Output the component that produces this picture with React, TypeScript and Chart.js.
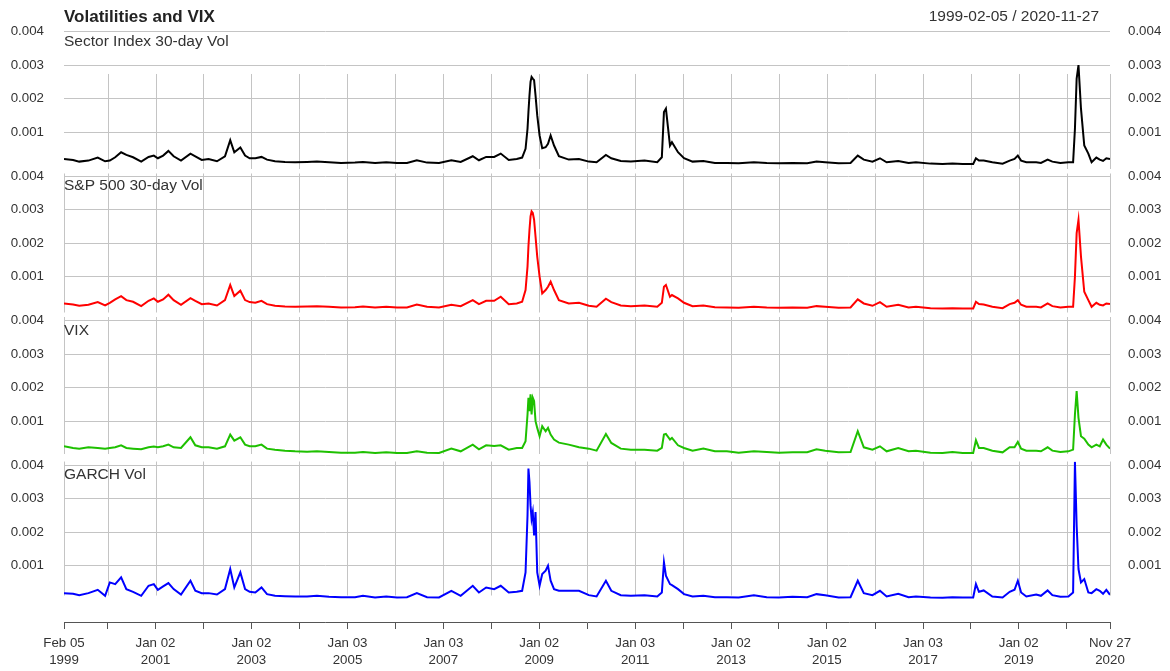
import React, { useEffect, useRef } from "react";
import { Chart, registerables } from "chart.js";

Chart.register(...registerables);

const chartTitle = "Volatilities and VIX";
const dateRange = "1999-02-05 / 2020-11-27";
const panelTitles = ["Sector Index 30-day Vol", "S&P 500 30-day Vol", "VIX", "GARCH Vol"];
const seriesColors = ["#000000", "#FF0000", "#1EC000", "#0000FF"];

const dates = [
  "1999-02-05", "1999-04-15", "1999-06-01", "1999-08-10", "1999-10-20", "1999-12-15",
  "2000-01-20", "2000-03-01", "2000-04-15", "2000-05-25", "2000-07-15", "2000-09-15", "2000-11-10", "2000-12-20",
  "2001-01-20", "2001-03-01", "2001-04-10", "2001-05-20", "2001-07-15", "2001-09-25", "2001-11-01", "2001-12-20",
  "2002-02-10", "2002-04-15", "2002-06-15", "2002-07-25", "2002-08-25", "2002-10-10", "2002-11-15", "2002-12-20",
  "2003-02-01", "2003-03-20", "2003-05-01", "2003-07-01", "2003-09-15", "2003-12-01",
  "2004-03-01", "2004-05-15", "2004-08-15", "2004-11-15", "2005-03-01", "2005-05-01", "2005-08-01", "2005-10-25", "2006-01-15", "2006-04-01", "2006-06-15", "2006-09-01", "2006-12-01",
  "2007-03-05", "2007-05-15", "2007-08-15", "2007-10-01", "2007-11-25", "2008-01-25", "2008-03-15", "2008-05-15", "2008-07-15", "2008-08-25",
  "2008-09-20", "2008-10-05", "2008-10-12", "2008-10-20", "2008-10-28", "2008-11-05", "2008-11-14", "2008-11-24", "2008-12-05", "2008-12-18", "2009-01-05", "2009-01-25", "2009-02-20", "2009-03-10", "2009-03-30", "2009-04-25", "2009-06-01",
  "2009-08-15", "2009-11-01",
  "2010-01-15", "2010-03-15", "2010-05-25", "2010-07-05", "2010-09-15", "2010-12-01",
  "2011-03-15", "2011-06-20", "2011-07-25", "2011-08-10", "2011-08-25", "2011-09-25", "2011-10-10", "2011-11-25", "2012-01-10", "2012-03-15", "2012-06-05", "2012-09-01", "2012-12-01",
  "2013-03-01", "2013-06-25", "2013-10-01", "2014-01-01", "2014-04-15", "2014-08-05", "2014-10-15", "2014-12-20",
  "2015-04-01", "2015-07-01", "2015-08-25", "2015-10-10", "2015-12-15", "2016-02-10", "2016-04-01", "2016-06-28", "2016-09-15", "2016-11-10",
  "2017-03-01", "2017-06-01", "2017-08-15", "2017-11-01", "2018-01-20", "2018-02-10", "2018-03-05", "2018-04-10", "2018-06-15", "2018-09-01", "2018-10-25", "2018-12-01", "2018-12-26", "2019-01-20", "2019-03-01", "2019-05-15", "2019-06-20", "2019-08-10", "2019-09-15", "2019-11-15",
  "2020-01-15", "2020-02-20", "2020-03-05", "2020-03-18", "2020-04-01", "2020-04-20", "2020-05-15", "2020-06-15", "2020-07-10", "2020-08-15", "2020-09-10", "2020-10-05", "2020-10-30", "2020-11-27",
];

const sectorVol = [
  0.0002, 0.00017, 0.00012, 0.00015, 0.00024, 0.00013,
  0.00015, 0.00025, 0.0004, 0.00032, 0.00025, 0.00012, 0.00026, 0.0003,
  0.00022, 0.0003, 0.00044, 0.00028, 0.00015, 0.00036, 0.00028, 0.00017,
  0.0002, 0.00013, 0.00028, 0.00076, 0.0004, 0.00054, 0.0003, 0.00022,
  0.00022, 0.00026, 0.00018, 0.00013, 0.00011, 0.0001,
  0.00011, 0.00012, 0.0001, 0.00008, 0.00009, 0.00011, 0.00008, 0.0001, 0.00008, 0.00008, 0.00016, 0.00009, 0.00008,
  0.00016, 0.00011, 0.00028, 0.00016, 0.00026, 0.00026, 0.00036, 0.00017, 0.0002, 0.00024,
  0.0005, 0.0011, 0.0016, 0.0021, 0.0025, 0.00265, 0.0026, 0.00255, 0.0021, 0.0015, 0.0009, 0.00052, 0.00055, 0.00065, 0.0009, 0.0006, 0.00028,
  0.00018, 0.0002,
  0.00012, 0.0001, 0.00032, 0.00022, 0.00014, 0.00012,
  0.00015, 0.0001, 0.00025, 0.0016, 0.0017, 0.0006, 0.0007, 0.0004, 0.00022, 0.00012, 0.00014, 0.00008, 0.00008,
  0.00007, 0.0001, 0.00008, 0.00007, 0.00008, 0.00007, 0.00012, 0.0001,
  0.00007, 0.00008, 0.0003, 0.00018, 0.00012, 0.00022, 0.0001, 0.00014, 0.00008, 0.0001,
  0.00006, 0.00005, 0.00006, 0.00005, 0.00005, 0.00022, 0.00015, 0.00015, 0.0001, 0.00006, 0.00015, 0.0002, 0.0003, 0.00015, 0.0001, 0.0001, 0.00008, 0.00018, 0.00012, 0.00008,
  0.0001, 0.0001, 0.0011, 0.0026, 0.003, 0.0017, 0.0006, 0.00036, 0.0001, 0.00024, 0.00018, 0.00014, 0.00022, 0.0002,
];

const spVol = [
  0.0002, 0.00017, 0.00013, 0.00016, 0.00024, 0.00014,
  0.00022, 0.00032, 0.00042, 0.0003, 0.00025, 0.00012, 0.00028, 0.00035,
  0.00025, 0.00032, 0.00046, 0.0003, 0.00016, 0.00036, 0.00028, 0.00018,
  0.0002, 0.00014, 0.0003, 0.00075, 0.00042, 0.00058, 0.0003, 0.00024,
  0.00022, 0.00028, 0.00018, 0.00013, 0.00011, 0.0001,
  0.00011, 0.00012, 0.0001, 0.00008, 0.00009, 0.00011, 0.00008, 0.0001, 0.00008, 0.00008, 0.00017, 0.0001, 0.00008,
  0.00016, 0.00012, 0.0003, 0.00018, 0.00028, 0.00028, 0.0004, 0.00018, 0.0002, 0.00025,
  0.0006, 0.0013, 0.0019, 0.0024, 0.0028, 0.00295, 0.0029, 0.0027, 0.0022, 0.0016, 0.001, 0.0005, 0.0006, 0.0007, 0.00085, 0.0006, 0.0003,
  0.0002, 0.00022,
  0.00013, 0.0001, 0.00034, 0.00024, 0.00014, 0.00012,
  0.00014, 0.0001, 0.00022, 0.0007, 0.00075, 0.0004, 0.00045, 0.00035, 0.00022, 0.00012, 0.00014, 0.00009, 0.00008,
  0.00007, 0.0001, 0.00008, 0.00007, 0.00008, 0.00007, 0.00012, 0.0001,
  0.00007, 0.00008, 0.00032, 0.0002, 0.00013, 0.00024, 0.0001, 0.00016, 0.00008, 0.0001,
  0.00006, 0.00005, 0.00006, 0.00005, 0.00005, 0.00025, 0.00018, 0.00017, 0.0001, 0.00006, 0.00018, 0.00022, 0.0003, 0.00016, 0.0001, 0.0001, 0.00008, 0.0002, 0.00012, 0.00008,
  0.0001, 0.0001, 0.001, 0.0023, 0.0027, 0.0016, 0.00055, 0.0003, 0.0001, 0.00022, 0.00016, 0.00014, 0.0002, 0.00018,
];

const vixVol = [
  0.00025, 0.0002, 0.00018, 0.00022, 0.0002, 0.00018,
  0.0002, 0.00022, 0.00028, 0.0002, 0.00018, 0.00016, 0.00022, 0.00024,
  0.00022, 0.00025, 0.0003, 0.00022, 0.0002, 0.00052, 0.00028, 0.00022,
  0.00022, 0.00018, 0.00025, 0.0006, 0.00042, 0.00052, 0.0003, 0.00025,
  0.00025, 0.0003, 0.00018, 0.00015, 0.00012, 0.0001,
  0.00009, 0.0001, 0.00008, 0.00006, 0.00006, 0.00008, 0.00005, 0.00007, 0.00005, 0.00005, 0.0001, 0.00006, 0.00005,
  0.00018, 0.0001, 0.0003, 0.00016, 0.00028, 0.00026, 0.00028, 0.00015, 0.0002, 0.0002,
  0.0004, 0.0012, 0.0017, 0.0013, 0.0018, 0.0012, 0.0017, 0.0016, 0.001, 0.0008, 0.00055, 0.00085, 0.0007, 0.0008, 0.0006, 0.00045, 0.00036,
  0.0003, 0.00022,
  0.00018, 0.00012, 0.00062, 0.00035, 0.00018, 0.00015,
  0.00015, 0.00012, 0.0002, 0.0006, 0.00062, 0.00045, 0.0005, 0.00028, 0.0002, 0.00012, 0.00018, 0.0001, 0.0001,
  0.00006, 0.0001, 0.00008, 0.00006, 0.00007, 0.00007, 0.00016, 0.00012,
  0.00007, 0.00008, 0.0007, 0.00022, 0.00015, 0.00025, 0.0001, 0.0002, 0.0001, 0.00012,
  0.00006, 0.00005, 0.00008, 0.00005, 0.00005, 0.00043, 0.0002, 0.0002, 0.00012, 0.00007, 0.00022, 0.00022, 0.00038, 0.00018, 0.00012, 0.00012, 0.0001, 0.00022, 0.00012, 0.00008,
  0.0001, 0.00015, 0.0012, 0.0019, 0.0011, 0.00055, 0.00048, 0.0003, 0.00022, 0.0003, 0.00025, 0.00045, 0.0003, 0.00018,
];

const garchVol = [
  0.00018, 0.00016, 0.00012, 0.00018, 0.00028, 0.0001,
  0.0005, 0.00045, 0.00065, 0.0003, 0.00022, 0.0001, 0.0004, 0.00045,
  0.00028, 0.00038, 0.00048, 0.0003, 0.00014, 0.00055, 0.00025, 0.00018,
  0.00018, 0.00014, 0.0003, 0.0009, 0.00035, 0.0008, 0.0003, 0.00022,
  0.0002, 0.00035, 0.00015, 0.0001, 0.00009, 0.00008,
  0.00008, 0.0001, 0.00007, 0.00006, 0.00006, 0.0001, 0.00005, 0.00008, 0.00005, 0.00006, 0.00018, 0.00006, 0.00005,
  0.00025, 0.0001, 0.0004, 0.0002, 0.00035, 0.0003, 0.0004, 0.0002, 0.00022, 0.00025,
  0.0008, 0.0025, 0.0039, 0.0035, 0.0028, 0.0024, 0.0026, 0.0019, 0.0026, 0.0008, 0.0004, 0.00075, 0.00085, 0.001, 0.00055, 0.0003, 0.00025,
  0.00025, 0.00025,
  0.00012, 0.00008, 0.00055, 0.00025, 0.00012, 0.0001,
  0.00012, 0.00008, 0.0002, 0.0011, 0.0007, 0.00045, 0.00042, 0.0003, 0.00015, 0.00008, 0.0001, 0.00006, 0.00006,
  0.00005, 0.00012, 0.00006, 0.00005, 0.00007, 0.00006, 0.00015, 0.00012,
  0.00005, 0.00006, 0.00055, 0.00018, 0.00012, 0.00025, 0.00008, 0.00016, 0.00006, 0.00008,
  0.00005, 0.00004, 0.00006, 0.00005, 0.00005, 0.00045, 0.00022, 0.00026, 0.00008, 0.00005, 0.00022, 0.00028, 0.00055, 0.0002, 0.00008, 0.00014, 0.0001, 0.00026, 0.00012, 0.00007,
  0.00008, 0.0002, 0.0041, 0.0022, 0.0009, 0.0005, 0.0006, 0.0002, 0.00018, 0.0003, 0.00025, 0.00016, 0.00028, 0.00013,
];

const xTickDates = [
  "1999-02-05", "2000-01-03", "2001-01-02", "2002-01-02", "2003-01-02", "2004-01-02",
  "2005-01-03", "2006-01-03", "2007-01-03", "2008-01-02", "2009-01-02", "2010-01-04",
  "2011-01-03", "2012-01-03", "2013-01-02", "2014-01-02", "2015-01-02", "2016-01-04",
  "2017-01-03", "2018-01-02", "2019-01-02", "2020-01-02", "2020-11-27",
];
const xTickLabels: (string | string[])[] = [
  ["Feb 05", "1999"], "", ["Jan 02", "2001"], "", ["Jan 02", "2003"], "",
  ["Jan 03", "2005"], "", ["Jan 03", "2007"], "", ["Jan 02", "2009"], "",
  ["Jan 03", "2011"], "", ["Jan 02", "2013"], "", ["Jan 02", "2015"], "",
  ["Jan 03", "2017"], "", ["Jan 02", "2019"], "", ["Nov 27", "2020"],
];
const yTicks = [0.001, 0.002, 0.003, 0.004];

const FONT = "'Liberation Sans', Arial, Helvetica, sans-serif";
const TEXT = "#333333";
const GRID = "#c4c4c4";
const AXIS = "#555555";
const PANEL_WEIGHTS = [145, 145, 145, 161];
const Y_MAX = 0.00411;
const Y_MIN = [-0.000205, -0.000205, -0.000205, -0.000682];
const VGRID = [[46, 141], [1, 140], [0, 137], [0, 134]];

const toDay = (s: string) => {
  const [y, m, d] = s.split("-").map(Number);
  return Date.UTC(y, m - 1, d) / 86400000;
};

export default function App() {
  const ref = useRef<HTMLCanvasElement>(null);

  useEffect(() => {
    document.body.style.margin = "0";
    const canvas = ref.current;
    if (!canvas) return;
    const series = [sectorVol, spVol, vixVol, garchVol];
    const tickDays = xTickDates.map(toDay);

    const scales: any = {
      x: {
        type: "linear",
        min: toDay(dates[0]),
        max: toDay(dates[dates.length - 1]),
        afterBuildTicks: (s: any) => {
          s.ticks = tickDays.map((v) => ({ value: v }));
        },
        afterFit: (s: any) => {
          s.height = 49;
        },
        ticks: {
          autoSkip: false,
          maxRotation: 0,
          minRotation: 0,
          padding: 6,
          color: TEXT,
          font: { family: FONT, size: 13.3, lineHeight: 1.25 },
          callback: (_v: any, i: number) => xTickLabels[i],
        },
        grid: { display: true, drawOnChartArea: false, drawTicks: true, tickLength: 7, color: AXIS, lineWidth: 1 },
        border: { display: true, color: AXIS, width: 1 },
      },
    };

    for (let i = 0; i < 4; i++) {
      const common = {
        type: "linear",
        min: Y_MIN[i],
        max: Y_MAX,
        stackWeight: PANEL_WEIGHTS[i],
        afterBuildTicks: (s: any) => {
          s.ticks = yTicks.map((v) => ({ value: v }));
        },
        border: { display: false },
      };
      scales["y" + i] = {
        ...common,
        position: "left",
        stack: "L",
        weight: 4 - i,
        afterFit: (s: any) => {
          s.width = 64;
        },
        ticks: {
          padding: 20,
          color: TEXT,
          font: { family: FONT, size: 13.3 },
          callback: (v: any) => Number(v).toFixed(3),
        },
        grid: { display: true, drawTicks: false, color: GRID, lineWidth: 1 },
      };
      scales["r" + i] = {
        ...common,
        position: "right",
        stack: "R",
        weight: i + 1,
        afterFit: (s: any) => {
          s.width = 60;
        },
        ticks: {
          padding: 18,
          color: TEXT,
          font: { family: FONT, size: 13.3 },
          callback: (v: any) => Number(v).toFixed(3),
        },
        grid: { display: false, drawTicks: false },
      };
    }

    const panelPlugin = {
      id: "panels",
      beforeDatasetsDraw(chart: any) {
        const { ctx } = chart;
        const xs = chart.scales.x;
        ctx.save();
        ctx.strokeStyle = GRID;
        ctx.lineWidth = 1;
        for (let i = 0; i < 4; i++) {
          const ys = chart.scales["y" + i];
          const top = ys.top + VGRID[i][0];
          const bot = ys.top + VGRID[i][1];
          tickDays.forEach((d, k) => {
            if (i === 0 && k === 0) return;
            const x = Math.round(xs.getPixelForValue(d)) + 0.5;
            ctx.beginPath();
            ctx.moveTo(x, top);
            ctx.lineTo(x, bot);
            ctx.stroke();
          });
        }
        ctx.restore();
      },
      afterDraw(chart: any) {
        const { ctx, chartArea } = chart;
        ctx.save();
        ctx.textBaseline = "middle";
        ctx.fillStyle = "#222222";
        ctx.font = `bold 17px ${FONT}`;
        ctx.textAlign = "left";
        ctx.fillText(chartTitle, chartArea.left, 17);
        ctx.fillStyle = TEXT;
        ctx.font = `15.5px ${FONT}`;
        ctx.textAlign = "right";
        ctx.fillText(dateRange, chartArea.right - 11, 17);
        ctx.textAlign = "left";
        for (let i = 0; i < 4; i++) {
          const ys = chart.scales["y" + i];
          ctx.fillText(panelTitles[i], chartArea.left, ys.top + 13.5);
        }
        ctx.restore();
      },
    };

    const chart = new Chart(canvas, {
      type: "line",
      data: {
        datasets: series.map((vals, i) => ({
          label: panelTitles[i],
          data: dates.map((d, k) => ({ x: toDay(d), y: vals[k] })),
          yAxisID: "y" + i,
          borderColor: seriesColors[i],
          borderWidth: 2,
          pointRadius: 0,
          tension: 0,
          fill: false,
        })),
      },
      options: {
        responsive: false,
        animation: false,
        layout: { padding: { top: 26, left: 0, right: 0, bottom: 0 } },
        plugins: { legend: { display: false }, tooltip: { enabled: false }, title: { display: false } },
        scales,
      } as any,
      plugins: [panelPlugin],
    });
    return () => chart.destroy();
  }, []);

  return (
    <div style={{ width: 1170, height: 671, background: "#ffffff" }}>
      <canvas ref={ref} width={1170} height={671} style={{ display: "block" }} />
    </div>
  );
}
